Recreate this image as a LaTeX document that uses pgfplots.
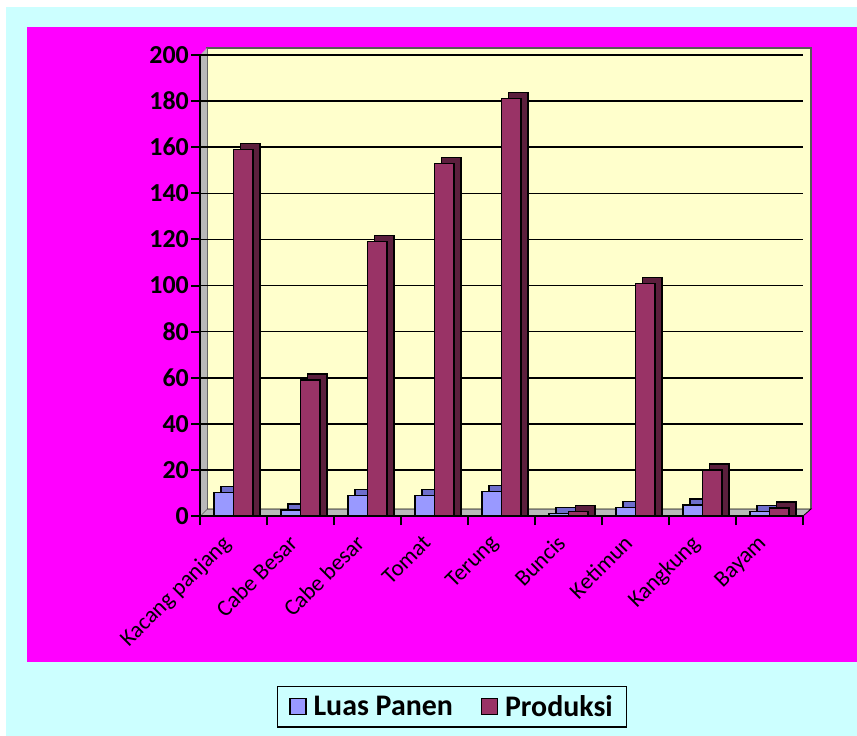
\documentclass[border=0pt]{standalone}
\usepackage{fontspec}
\setmainfont{Carlito}
\usepackage{pgfplots}
\usepackage{pgfplotstable}
\pgfplotsset{compat=1.18}
\definecolor{bgcyan}{HTML}{CCFFFF}
\definecolor{bgmag}{HTML}{FF00FF}
\definecolor{plotyel}{HTML}{FFFFCC}
\definecolor{lpcol}{HTML}{9999FF}
\definecolor{lpdark}{HTML}{6E6ECC}
\definecolor{prcol}{HTML}{993366}
\definecolor{prdark}{HTML}{5C1F3D}

% idx, Luas Panen, Produksi
\pgfplotstableread{
x lp pr
0 10.1 159
1 2.6 59
2 9 119
3 9 153
4 10.8 181
5 1 2
6 3.6 101
7 4.8 20
8 2 3.5
}\datatab

\begin{document}
\begin{tikzpicture}
\useasboundingbox (0bp,0bp) rectangle (857bp,-736bp);
\fill[white] (0bp,0bp) rectangle (857bp,-736bp);
\fill[bgcyan] (6bp,-7bp) rectangle (857bp,-736bp);
\fill[bgmag] (27bp,-27bp) rectangle (857bp,-662bp);
% back wall and floor
\fill[plotyel] (207bp,-48bp) rectangle (811bp,-509bp);
\draw[gray!70!black, line width=1.5bp] (207bp,-509bp) -- (207bp,-48bp) -- (811bp,-48bp) -- (811bp,-509bp);
\fill[gray!55, draw=black, line width=0.8bp] (200bp,-516bp) -- (803bp,-516bp) -- (811bp,-509bp) -- (207bp,-509bp) -- cycle;
\fill[gray!55] (200bp,-516bp) -- (200bp,-55bp) -- (207bp,-48bp) -- (207bp,-509bp) -- cycle;
\begin{axis}[
  at={(200bp,-516bp)}, anchor=south west,
  scale only axis, width=603bp, height=461bp,
  xmin=-0.5, xmax=8.5, ymin=0, ymax=200,
  axis x line*=bottom, axis y line*=left,
  axis line style={black, line width=2bp},
  ytick={0,20,...,200},
  ymajorgrids, major grid style={black, line width=1.6bp},
  tick align=outside, major tick length=9bp,
  tick style={black, line width=2bp},
  xtick={-0.5,0.5,...,8.5}, xticklabels={},
  extra x ticks={0,...,8},
  extra x tick labels={Kacang panjang,Cabe Besar,Cabe besar,Tomat,Terung,Buncis,Ketimun,Kangkung,Bayam},
  extra x tick style={major tick length=0pt,
    xticklabel style={xshift=-13bp, yshift=-16bp, rotate=45, anchor=north east, font=\fontsize{23}{26}\selectfont, inner sep=1bp}},
  yticklabel style={font=\bfseries\fontsize{26}{30}\selectfont, inner sep=2bp},
  /pgf/number format/assume math mode=true,
  clip=false,
  legend style={at={(0.418,-0.414)}, anchor=center, draw=black, line width=1.5bp,
    fill=bgcyan, font=\bfseries\fontsize{30}{36}\selectfont,
    legend columns=2, inner xsep=12bp, inner ysep=7bp,
    /tikz/every odd column/.append style={column sep=5bp},
    /tikz/every even column/.append style={column sep=26bp}},
  legend image code/.code={\draw[#1, line width=1.2bp] (0bp,-8bp) rectangle (16bp,8bp);},
]
\addplot[ybar, bar width=19.5bp, bar shift=-2.75bp, fill=lpdark, draw=black, line width=1.2bp, forget plot]
  table[x=x, y expr=\thisrow{lp}+2.6] {\datatab};
\addplot[ybar, bar width=19.5bp, bar shift=-9.75bp, fill=lpcol, draw=black, line width=1.2bp]
  table[x=x, y=lp] {\datatab};
\addplot[ybar, bar width=19.5bp, bar shift=16.75bp, fill=prdark, draw=black, line width=1.2bp, forget plot]
  table[x=x, y expr=\thisrow{pr}+2.6] {\datatab};
\addplot[ybar, bar width=19.5bp, bar shift=9.75bp, fill=prcol, draw=black, line width=1.2bp]
  table[x=x, y=pr] {\datatab};
\legend{Luas Panen,Produksi}
\end{axis}
\end{tikzpicture}
\end{document}
